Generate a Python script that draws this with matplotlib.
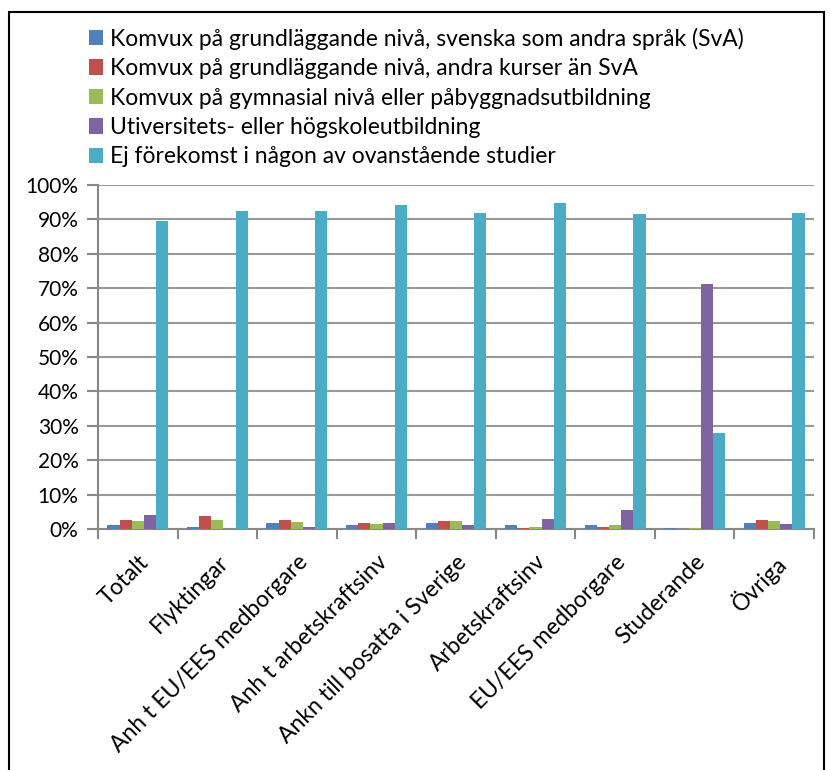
import numpy as np
import matplotlib.pyplot as plt
from matplotlib.patches import Rectangle
from matplotlib.ticker import PercentFormatter

plt.rcParams['font.family'] = ['Lato', 'DejaVu Sans']

categories = ['Totalt', 'Flyktingar', 'Anh t EU/EES medborgare', 'Anh t arbetskraftsinv',
              'Ankn till bosatta i Sverige', 'Arbetskraftsinv', 'EU/EES medborgare',
              'Studerande', 'Övriga']

series_names = [
    'Komvux på grundläggande nivå, svenska som andra språk (SvA)',
    'Komvux på grundläggande nivå, andra kurser än SvA',
    'Komvux på gymnasial nivå eller påbyggnadsutbildning',
    'Utiversitets- eller högskoleutbildning',
    'Ej förekomst i någon av ovanstående studier',
]

sva = [1.2, 0.5, 1.7, 1.1, 1.7, 1.1, 1.2, 0.3, 1.6]
andra = [2.6, 3.9, 2.6, 1.6, 2.3, 0.3, 0.5, 0.1, 2.6]
gymnasial = [2.2, 2.6, 2.0, 1.5, 2.2, 0.6, 1.1, 0.3, 2.3]
hogskola = [4.1, 0.0, 0.7, 1.6, 1.2, 2.8, 5.4, 71.2, 1.4]
ej = [89.5, 92.5, 92.5, 94.2, 92.0, 94.8, 91.5, 27.8, 91.8]

colors = ['#4F81BD', '#C0504D', '#9BBB59', '#8064A2', '#4BACC6']

fig = plt.figure(figsize=(8.3, 7.7), dpi=100)
# plot area: x 98..814 px, y 185..529 px
ax = fig.add_axes([98 / 830, 1 - 529 / 770, 716 / 830, 344 / 770])

x = np.arange(len(categories))
w = 0.153
for i, (vals, name, c) in enumerate(zip([sva, andra, gymnasial, hogskola, ej], series_names, colors)):
    ax.bar(x + (i - 2) * w, vals, width=w, color=c, label=name, zorder=3)

ax.set_ylim(0, 100)
ax.set_xlim(-0.5, len(categories) - 0.5)
ax.set_yticks(np.arange(0, 101, 10))
ax.yaxis.set_major_formatter(PercentFormatter(decimals=0))
ax.grid(axis='y', color='#999999', linewidth=1.5, zorder=0)

ax.set_xticks(x)
ax.set_xticklabels(categories, rotation=45, ha='right', rotation_mode='anchor', fontsize=16.5)
ax.tick_params(axis='x', length=0, pad=16)
ax.set_xticks(np.arange(-0.5, len(categories)), minor=True)
ax.tick_params(axis='x', which='minor', length=7, color='#888888', width=1.5)
ax.tick_params(axis='y', labelsize=15, length=8, color='#888888', width=1.5, pad=6)

for s in ['top', 'right']:
    ax.spines[s].set_visible(False)
for s in ['left', 'bottom']:
    ax.spines[s].set_color('#888888')
    ax.spines[s].set_linewidth(1.5)

fig.legend(loc='upper left', bbox_to_anchor=(78 / 830, 1 - 16 / 770), frameon=False, fontsize=16.5,
           handlelength=0.6, handleheight=0.65, handletextpad=0.3, labelspacing=0.37,
           borderpad=0)

fig.patches.append(Rectangle((9 / 830, -0.01), 815 / 830, 1.01 - 12 / 770, transform=fig.transFigure,
                             fill=False, edgecolor='black', linewidth=1.5))

fig.savefig('out.png', dpi=100)
